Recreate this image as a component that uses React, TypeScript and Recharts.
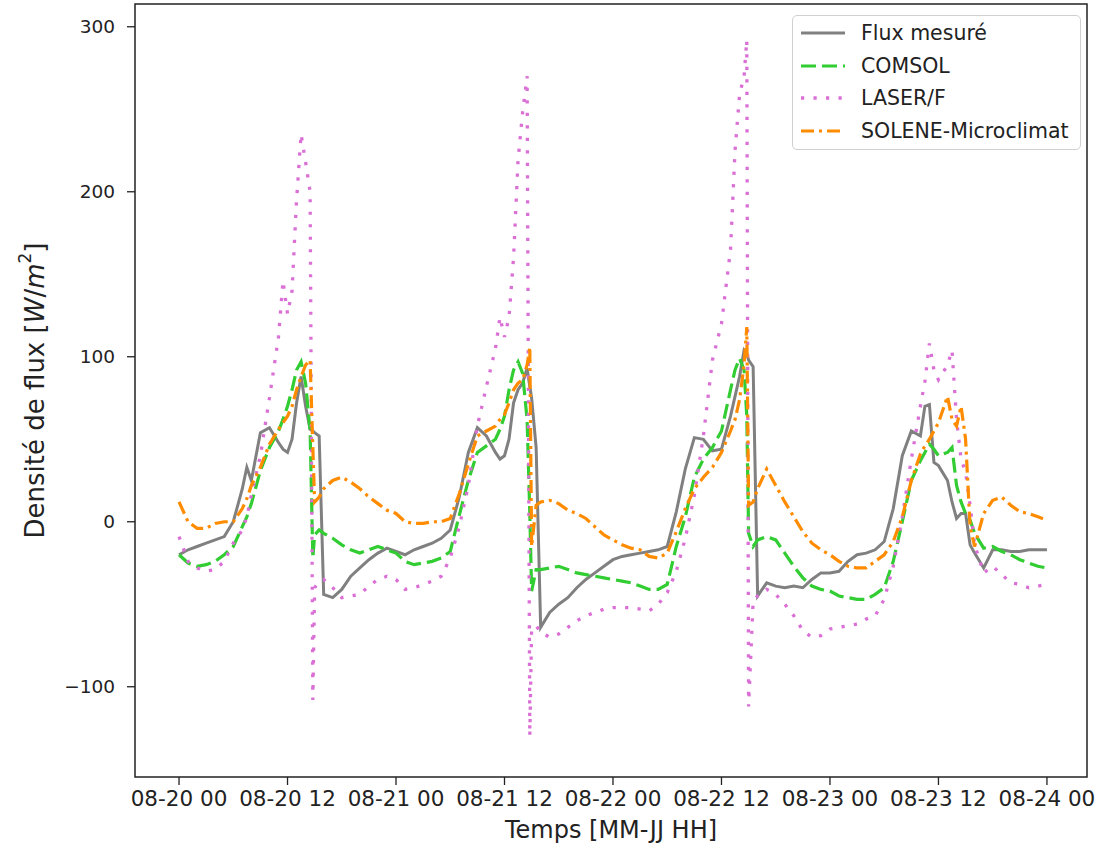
import { LineChart, Line, XAxis, YAxis, ReferenceArea } from "recharts";

// hours since 08-20 00
const hours = [
  0, 1, 2, 3, 4, 5, 6, 7, 7.5, 8, 9, 10, 11, 11.5, 12, 12.5, 13, 13.5, 14, 14.5, 14.8, 15, 15.5, 16, 17, 18, 19, 20, 21, 22, 23,
  24, 25, 26, 27, 28, 29, 30, 31, 32, 33, 34, 35, 35.5, 36, 36.5, 37, 37.5, 38, 38.5, 38.8, 39, 39.5, 40, 41, 42, 43, 44, 45, 46, 47, 48, 49, 50, 51, 52, 53, 54,
  55, 56, 57, 58, 59, 60, 61, 61.5, 62, 62.5, 62.8, 63, 63.5, 64, 65, 66, 67, 68, 69, 70, 71, 72, 73, 74, 75, 76, 77, 78, 79, 80, 81, 82,
  82.5, 83, 83.5, 84, 85, 85.5, 86, 86.5, 87, 87.5, 88, 89, 90, 91, 92, 93, 94, 95, 96,
];

const measured = [
  -20, -17, -15, -13, -11, -9, 0, 20, 33, 25, 54, 57, 48, 44, 42, 50, 72, 88, 70, 56, 55, 54, 52, -44, -46, -41, -33, -28, -23, -19, -16,
  -18, -20, -17, -15, -13, -10, -5, 15, 42, 57, 52, 42, 38, 40, 50, 72, 80, 84, 93, 82, 75, 45, -64, -55, -50, -46, -40, -35, -31, -27, -23, -21, -20, -19, -18, -17, -15,
  6, 32, 51, 50, 43, 44, 64, 76, 88, 104, 102, 98, 94, -45, -37, -39, -40, -39, -40, -35, -31, -31, -30, -24, -20, -19, -17, -12, 8, 40, 55, 52,
  70, 71, 36, 34, 25, 12, 2, 5, 5, -14, -19, -28, -17, -17, -18, -18, -17, -17, -17,
];

const comsol = [
  -20, -25, -27, -26, -24, -20, -15, -3, 3, 11, 31, 45, 55, 62, 70, 80, 92, 97, 84, 55, -22, -8, -5, -7, -10, -14, -17, -19, -17, -15, -17,
  -19, -24, -26, -25, -24, -22, -18, 4, 25, 42, 46, 50, 56, 64, 80, 92, 97, 90, 62, 5, -42, -29, -29, -28, -27, -29, -31, -32, -33, -34, -35, -36, -37, -39, -41, -41, -38,
  -15, 3, 27, 38, 45, 55, 80, 92, 99, 92, 64, -7, -15, -11, -9, -11, -19, -27, -34, -39, -41, -42, -45, -46, -47, -47, -44, -40, -24, 0, 25, 37,
  42, 47, 44, 40, 42, 45, 22, 12, 5, 1, -7, -16, -15, -18, -20, -23, -25, -27, -28,
];

const laser = [
  -9, -24, -28, -30, -29, -24, -13, -5, 3, 16, 40, 75, 112, 146, 126, 140, 195, 235, 218, 200, -108, -40, -36, -35, -40, -46, -45, -44, -39, -35, -33,
  -35, -41, -40, -38, -36, -33, -22, -3, 22, 58, 82, 105, 124, 112, 124, 160, 219, 248, 270, -130, -65, -63, -67, -70, -68, -64, -60, -57, -55, -53, -52, -52, -52, -53, -54, -50, -43,
  -30, -10, 16, 52, 98, 120, 165, 225, 259, 270, 292, -112, -48, -45, -41, -44, -50, -57, -66, -70, -69, -65, -64, -63, -62, -59, -57, -47, -27, 3, 38, 70,
  85, 108, 92, 86, 95, 104, 62, 38, 30, 10, -14, -31, -27, -32, -37, -38, -40, -39, -38,
];

const solene = [
  12, 0, -4, -4, -1, 0, 0, 8, 14, 22, 33, 47, 56, 60, 64, 70, 80, 88, 95, 98, 45, 12, 15, 20, 25, 27, 24, 20, 15, 11, 7,
  5, 0, -1, -1, 0, 0, 2, 17, 35, 52, 55, 58, 62, 65, 72, 80, 84, 86, 95, 106, -15, 10, 12, 13, 11, 7, 5, 2, -3, -8, -11, -14, -16, -17, -21, -22, -19,
  -6, 8, 20, 27, 33, 42, 55, 62, 74, 95, 118, 10, 12, 20, 32, 22, 12, 3, -6, -13, -17, -20, -24, -27, -28, -28, -24, -20, -12, 3, 25, 41,
  46, 50, 55, 60, 76, 62, 58, 70, 50, -3, -15, 5, 13, 15, 10, 6, 5, 3, 1,
];

const xTicks = [0, 12, 24, 36, 48, 60, 72, 84, 96];
const xTickLabels = ["08-20 00", "08-20 12", "08-21 00", "08-21 12", "08-22 00", "08-22 12", "08-23 00", "08-23 12", "08-24 00"];
const yTicks = [-100, 0, 100, 200, 300];

const series = [
  { key: "measured", name: "Flux mesuré", color: "#808080", dash: undefined, width: 3 },
  { key: "comsol", name: "COMSOL", color: "#32cd32", dash: "15 6", width: 3.2 },
  { key: "laser", name: "LASER/F", color: "#da70d6", dash: "3.2 9.3", width: 3.3 },
  { key: "solene", name: "SOLENE-Microclimat", color: "#ff8c00", dash: "13 5 3 5", width: 3.2 },
];

const rows = hours.map((t, i) => ({
  t,
  measured: measured[i],
  comsol: comsol[i],
  laser: laser[i],
  solene: solene[i],
}));

const FONT = "DejaVu Sans";
const xDomain = [-4.87, 100.43];
const yDomain = [-154.7, 313.8];

const fmtY = (v: number) => (v < 0 ? `\u2212${Math.abs(v)}` : `${v}`);
const fmtX = (v: number) => xTickLabels[xTicks.indexOf(v)] ?? "";

function LegendBox() {
  return (
    <div
      style={{
        position: "absolute",
        left: 792,
        top: 15,
        width: 289,
        boxSizing: "border-box",
        border: "1px solid #d0d0d0",
        borderRadius: 5,
        background: "rgba(255,255,255,0.85)",
        padding: "1px 6px 2px 6px",
        fontFamily: FONT,
        fontSize: 20.5,
        color: "#222",
      }}
    >
      {series.map((s) => (
        <div key={s.key} style={{ display: "flex", alignItems: "center", height: 32.5 }}>
          <svg width={48} height={12} style={{ marginRight: 14 }}>
            <line x1={2} y1={6} x2={46} y2={6} stroke={s.color} strokeWidth={s.width} strokeDasharray={s.dash} />
          </svg>
          <span>{s.name}</span>
        </div>
      ))}
    </div>
  );
}

function YLabel(props: any) {
  const vb = props.viewBox;
  const cx = 35;
  const cy = vb.y + vb.height / 2;
  return (
    <text
      x={cx}
      y={cy}
      transform={`rotate(-90, ${cx}, ${cy})`}
      textAnchor="middle"
      dominantBaseline="central"
      fontFamily={FONT}
      fontSize={26}
      fill="#222"
    >
      Densité de flux [<tspan fontStyle="italic">W</tspan>/<tspan fontStyle="italic">m</tspan>
      <tspan dy={-10} fontSize={17}>2</tspan>
      <tspan dy={10}>]</tspan>
    </text>
  );
}

function XLabel(props: any) {
  const vb = props.viewBox;
  return (
    <text
      x={vb.x + vb.width / 2}
      y={830}
      textAnchor="middle"
      dominantBaseline="central"
      fontFamily={FONT}
      fontSize={24}
      fill="#222"
    >
      Temps [MM-JJ HH]
    </text>
  );
}

export default function App() {
  return (
    <div style={{ position: "absolute", left: 0, top: 0, width: 1115, height: 848, background: "#fff" }}>
      <LineChart width={1115} height={848} data={rows} margin={{ top: 4, right: 28, left: 75, bottom: 31 }}>
        <XAxis
          dataKey="t"
          type="number"
          domain={xDomain}
          ticks={xTicks}
          tickFormatter={fmtX}
          allowDataOverflow
          axisLine={false}
          tickLine={{ stroke: "#222", strokeWidth: 1.3 }}
          tickSize={8}
          tickMargin={6}
          height={40}
          interval={0}
          tick={{ fontFamily: FONT, fontSize: 21.5, fill: "#222" }}
          label={{ content: XLabel }}
        />
        <YAxis
          type="number"
          domain={yDomain}
          ticks={yTicks}
          tickFormatter={fmtY}
          allowDataOverflow
          axisLine={false}
          tickLine={{ stroke: "#222", strokeWidth: 1.3 }}
          tickSize={8}
          tickMargin={12}
          width={60}
          interval={0}
          tick={{ fontFamily: FONT, fontSize: 18.5, fill: "#222" }}
          label={{ content: YLabel }}
        />
        <ReferenceArea
          x1={xDomain[0]}
          x2={xDomain[1]}
          y1={yDomain[0]}
          y2={yDomain[1]}
          fill="none"
          stroke="#222"
          strokeWidth={1.5}
          ifOverflow="visible"
        />
        {series.map((s) => (
          <Line
            key={s.key}
            dataKey={s.key}
            name={s.name}
            type="linear"
            stroke={s.color}
            strokeWidth={s.width}
            strokeDasharray={s.dash}
            dot={false}
            activeDot={false}
            isAnimationActive={false}
          />
        ))}
      </LineChart>
      <LegendBox />
    </div>
  );
}
